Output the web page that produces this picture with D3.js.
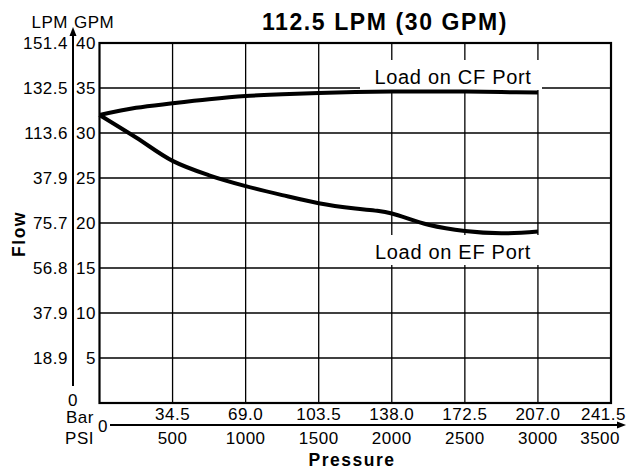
<!DOCTYPE html>
<html lang="en">
<head>
<meta charset="UTF-8">
<title>112.5 LPM (30 GPM)</title>
<script src="https://d3js.org/d3.v7.min.js"></script>
<style>
    body { margin: 0; background: #fff; }
    svg { display: block; }
    text { font-family: "Liberation Sans", Arial, Helvetica, sans-serif; fill: #000; }
    .tick { font-size: 17px; letter-spacing: 0.5px; }
    .grid { stroke: #000; stroke-width: 1.3px; }
    .curve { fill: none; stroke: #000; stroke-width: 4px; }
</style>
</head>
<body>
<svg width="626" height="470"></svg>
<script>
    // flow axis: GPM ticks with the LPM labels printed next to them
    const gpmTicks = [5, 10, 15, 20, 25, 30, 35, 40];
    const lpmLabels = ["18.9", "37.9", "56.8", "75.7", "37.9", "113.6", "132.5", "151.4"];

    // pressure axis: PSI ticks with the Bar labels above them
    const psiTicks = [500, 1000, 1500, 2000, 2500, 3000, 3500];
    const barLabels = ["34.5", "69.0", "103.5", "138.0", "172.5", "207.0", "241.5"];

    // curves (PSI -> GPM)
    const cfPsi = [0, 250, 500, 750, 1000, 1250, 1500, 1750, 2000, 2250, 2500, 2750, 3000];
    const cfGpm = [32.0, 32.8, 33.3, 33.75, 34.1, 34.3, 34.45, 34.55, 34.6, 34.6, 34.6, 34.55, 34.5];

    const efPsi = [0, 250, 500, 750, 1000, 1250, 1500, 1750, 1900, 2000, 2250, 2500, 2750, 3000];
    const efGpm = [32.0, 29.5, 26.9, 25.3, 24.1, 23.1, 22.2, 21.6, 21.35, 21.05, 19.8, 19.1, 18.85, 19.05];

    const svg = d3.select("svg");

    const x = d3.scaleLinear().domain([0, 3500]).range([99.5, 611]);
    const y = d3.scaleLinear().domain([0, 40]).range([403, 43]);

    // grid
    const grid = svg.append("g");
    grid.selectAll("line.v")
        .data(psiTicks.slice(0, -1))
        .enter().append("line")
        .attr("class", "grid")
        .attr("x1", d => x(d)).attr("x2", d => x(d))
        .attr("y1", y(0)).attr("y2", y(40));
    grid.selectAll("line.h")
        .data(gpmTicks.slice(0, -1))
        .enter().append("line")
        .attr("class", "grid")
        .attr("x1", x(0)).attr("x2", x(3500))
        .attr("y1", d => y(d)).attr("y2", d => y(d));

    // frame
    svg.append("rect")
        .attr("x", x(0)).attr("y", y(40))
        .attr("width", x(3500) - x(0)).attr("height", y(0) - y(40))
        .attr("fill", "none").attr("stroke", "#000").attr("stroke-width", 2.2);

    // white boxes behind the curve labels
    svg.append("rect").attr("x", 360).attr("y", 60).attr("width", 182).attr("height", 30).attr("fill", "#fff");
    svg.append("rect").attr("x", 360).attr("y", 235).attr("width", 186).attr("height", 30).attr("fill", "#fff");

    // curves
    const line = d3.line()
        .x(d => x(d[0]))
        .y(d => y(d[1]))
        .curve(d3.curveCatmullRom.alpha(0.5));

    svg.append("path")
        .attr("class", "curve")
        .attr("d", line(cfPsi.map((p, i) => [p, cfGpm[i]])));
    svg.append("path")
        .attr("class", "curve")
        .attr("d", line(efPsi.map((p, i) => [p, efGpm[i]])));

    svg.append("text")
        .attr("x", 453).attr("y", 83.5)
        .attr("text-anchor", "middle")
        .style("font-size", "20px").style("letter-spacing", "0.7px")
        .text("Load on CF Port");
    svg.append("text")
        .attr("x", 453).attr("y", 259)
        .attr("text-anchor", "middle")
        .style("font-size", "20px").style("letter-spacing", "0.7px")
        .text("Load on EF Port");

    // title
    svg.append("text")
        .attr("x", 385).attr("y", 29.5)
        .attr("text-anchor", "middle")
        .style("font-size", "23px").style("font-weight", "bold").style("letter-spacing", "1.6px")
        .text("112.5 LPM (30 GPM)");

    // left axis with arrow
    const axisX = 73;
    svg.append("line")
        .attr("x1", axisX).attr("x2", axisX)
        .attr("y1", 386).attr("y2", 34)
        .attr("stroke", "#000").attr("stroke-width", 2);
    svg.append("path")
        .attr("d", `M${axisX},27 L${axisX - 3.5},36 L${axisX + 3.5},36 Z`)
        .attr("fill", "#000");

    svg.append("text").attr("class", "tick")
        .attr("x", 68).attr("y", 28).attr("text-anchor", "end").text("LPM");
    svg.append("text").attr("class", "tick")
        .attr("x", 74).attr("y", 28).attr("text-anchor", "start").text("GPM");

    svg.selectAll("text.lpm")
        .data(gpmTicks)
        .enter().append("text")
        .attr("class", "tick lpm")
        .attr("x", 68).attr("y", d => y(d) + 6)
        .attr("text-anchor", "end")
        .text((d, i) => lpmLabels[i]);
    svg.selectAll("text.gpm")
        .data(gpmTicks)
        .enter().append("text")
        .attr("class", "tick gpm")
        .attr("x", 96).attr("y", d => y(d) + 6)
        .attr("text-anchor", "end")
        .text(d => d);

    svg.append("text").attr("class", "tick")
        .attr("x", axisX).attr("y", 405.5).attr("text-anchor", "middle").text("0");

    svg.append("text")
        .attr("transform", "translate(25,234) rotate(-90)")
        .attr("text-anchor", "middle")
        .style("font-size", "17.5px").style("font-weight", "bold").style("letter-spacing", "1.5px")
        .text("Flow");

    // bottom axis with arrow
    const axisY = 425;
    svg.append("line")
        .attr("x1", 110).attr("x2", 619)
        .attr("y1", axisY).attr("y2", axisY)
        .attr("stroke", "#000").attr("stroke-width", 2);
    svg.append("path")
        .attr("d", `M626,${axisY} L617,${axisY - 3.5} L617,${axisY + 3.5} Z`)
        .attr("fill", "#000");

    svg.append("text").attr("class", "tick")
        .attr("x", 103).attr("y", axisY + 6.5).attr("text-anchor", "middle").text("0");
    svg.append("text").attr("class", "tick")
        .attr("x", 94).attr("y", 423).attr("text-anchor", "end").text("Bar");
    svg.append("text").attr("class", "tick")
        .attr("x", 94).attr("y", 444).attr("text-anchor", "end").text("PSI");

    // the last labels are pulled in so they stay on the page
    const last = psiTicks.length - 1;
    svg.selectAll("text.bar")
        .data(psiTicks)
        .enter().append("text")
        .attr("class", "tick bar")
        .attr("x", (d, i) => i === last ? 626 : x(d)).attr("y", 420)
        .attr("text-anchor", (d, i) => i === last ? "end" : "middle")
        .text((d, i) => barLabels[i]);
    svg.selectAll("text.psi")
        .data(psiTicks)
        .enter().append("text")
        .attr("class", "tick psi")
        .attr("x", (d, i) => i === last ? 620 : x(d)).attr("y", 444)
        .attr("text-anchor", (d, i) => i === last ? "end" : "middle")
        .text(d => d);

    svg.append("text")
        .attr("x", 352).attr("y", 466)
        .attr("text-anchor", "middle")
        .style("font-size", "17.5px").style("font-weight", "bold").style("letter-spacing", "1.5px")
        .text("Pressure");
</script>
</body>
</html>
